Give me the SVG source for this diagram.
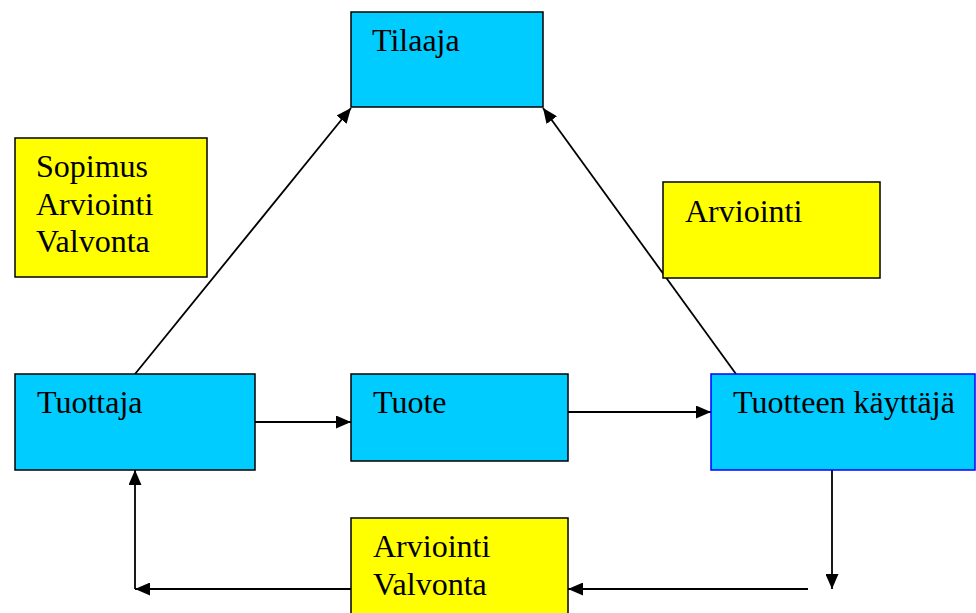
<svg xmlns="http://www.w3.org/2000/svg" width="976" height="613" viewBox="0 0 976 613">
<style>
.blue{fill:#00CCFF;stroke:#000;stroke-width:1.5}
.yel{fill:#FFFF00;stroke:#000;stroke-width:1.5}
.user{stroke:#0000FF}
text{font-family:"Liberation Serif","Times New Roman",serif;font-size:32px;fill:#000}
.c line{stroke:#000;stroke-width:1.8;fill:none}
.a{marker-end:url(#ah)}
</style>
<defs>
<marker id="ah" markerUnits="userSpaceOnUse" viewBox="0 0 15 13" markerWidth="15" markerHeight="13" refX="15" refY="6.5" orient="auto">
<path d="M0,0 L15,6.5 L0,13 z" fill="#000"/>
</marker>
</defs>
<rect width="976" height="613" fill="#fff"/>
<g class="c">
<line class="a" x1="135" y1="374" x2="351" y2="108"/>
<line class="a" x1="736" y1="374" x2="543" y2="108"/>
<line class="a" x1="255" y1="422" x2="351" y2="422"/>
<line class="a" x1="568" y1="412" x2="711" y2="412"/>
<line class="a" x1="832" y1="470" x2="832" y2="589"/>
<line class="a" x1="808" y1="589" x2="568" y2="589"/>
<line class="a" x1="351" y1="589" x2="135" y2="589"/>
<line class="a" x1="135" y1="589" x2="135" y2="470"/>
</g>
<g id="tilaaja"><rect class="blue" x="351" y="12" width="192" height="95"/><text x="372" y="51">Tilaaja</text></g>
<g id="sopimus"><rect class="yel" x="15" y="138" width="192" height="139"/><text x="36" y="177">Sopimus</text><text x="36" y="215">Arviointi</text><text x="36" y="252">Valvonta</text></g>
<g id="arviointi"><rect class="yel" x="663" y="182" width="217" height="96"/><text x="685" y="222">Arviointi</text></g>
<g id="tuottaja"><rect class="blue" x="15" y="374" width="240" height="96"/><text x="37" y="413">Tuottaja</text></g>
<g id="tuote"><rect class="blue" x="351" y="374" width="217" height="87"/><text x="373" y="413">Tuote</text></g>
<g id="kayttaja"><rect class="blue user" x="711" y="374" width="264" height="96"/><text x="733" y="413">Tuotteen käyttäjä</text></g>
<g id="valvonta"><rect class="yel" x="351" y="518" width="217" height="100"/><text x="373" y="557">Arviointi</text><text x="373" y="595">Valvonta</text></g>
</svg>
